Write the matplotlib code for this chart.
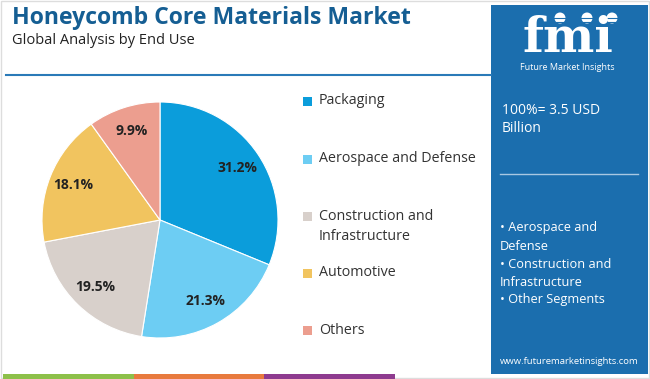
import matplotlib.pyplot as plt
from matplotlib.patches import Rectangle, Circle

# data
segments = ["Packaging", "Aerospace and Defense", "Construction and\nInfrastructure",
            "Automotive", "Others"]
shares = [31.2, 21.3, 19.5, 18.1, 9.9]
colors = ["#0B9DDB", "#6DCDF3", "#D8D0CB", "#F1C45F", "#EC9E8F"]
bullets = ["• Aerospace and\nDefense", "• Construction and\nInfrastructure", "• Other Segments"]

W, H = 650, 379
fig = plt.figure(figsize=(6.5, 3.79), dpi=100)
plt.rcParams['font.family'] = ['Open Sans', 'DejaVu Sans']


def fx(x):
    return x / W


def fy(y):
    return 1 - y / H


bg = fig.add_axes([0, 0, 1, 1])
bg.set_xlim(0, W)
bg.set_ylim(H, 0)
bg.axis("off")

# frame and decorations
bg.add_patch(Rectangle((1, 1), W - 2, H - 2, fill=False, ec="#DDDDDD", lw=1))
bg.plot([6, 491], [75, 75], color="#2A7AB8", lw=1.5)
for x0, x1, c in [(3, 134, "#8DC04A"), (134, 264, "#E87A3E"), (264, 395, "#8E3B8F")]:
    bg.add_patch(Rectangle((x0, 374), x1 - x0, 5, color=c, lw=0))

# right panel
bg.add_patch(Rectangle((491, 5), 157, 369, color="#1B6EAE", lw=0))
bg.text(568, 52, "fmi", color="white", fontsize=35, fontweight="bold",
        ha="center", va="baseline", family="DejaVu Serif")
for yy in range(18, 54, 4):
    bg.plot([512, 626], [yy, yy], color="#1B6EAE", lw=0.8)
for px in [560, 587, 612]:
    bg.add_patch(Circle((px, 18), 5.5, color="white", lw=0))
bg.text(567, 68, "Future Market Insights", color="white", fontsize=6.5,
        ha="center", va="center")
bg.text(502, 110, "100%= 3.5 USD", color="white", fontsize=10, va="center")
bg.text(502, 129, "Billion", color="white", fontsize=10, va="center")
bg.plot([500, 638], [174, 174], color="#A9C8E2", lw=1)
by = 228
for b in bullets:
    for ln in b.split("\n"):
        bg.text(500, by, ln, color="white", fontsize=9.2, va="center")
        by += 18
bg.text(569, 362, "www.futuremarketinsights.com", color="white", fontsize=6.8,
        ha="center", va="center")

# title
bg.text(12, 18, "Honeycomb Core Materials Market", color="#155E93", fontsize=16.6,
        fontweight="bold", va="center")
bg.text(12, 41, "Global Analysis by End Use", color="#222222", fontsize=10.5, va="center")

# pie
cx, cy, r = 160, 220, 118
ax = fig.add_axes([fx(cx - r), fy(cy + r), 2 * r / W, 2 * r / H])
wedges, _, autotexts = ax.pie(shares, colors=colors, startangle=90, counterclock=False,
                              radius=1, autopct="%.1f%%", pctdistance=0.79,
                              wedgeprops=dict(ec="white", lw=0.8),
                              textprops=dict(fontsize=10, fontweight="bold",
                                             color="#222222"))
ax.set_xlim(-1, 1)
ax.set_ylim(-1, 1)
ax.set_aspect("auto")
ax.axis("off")

# legend
leg_y = [101, 159, 216, 273, 330]
for yy, name, c in zip(leg_y, segments, colors):
    bg.add_patch(Rectangle((303, yy - 4), 9, 9, color=c, lw=0))
    for i, ln in enumerate(name.split("\n")):
        bg.text(319, yy + i * 20, ln, fontsize=10.3, color="#333333", va="center")

fig.savefig("out.png", dpi=100)
